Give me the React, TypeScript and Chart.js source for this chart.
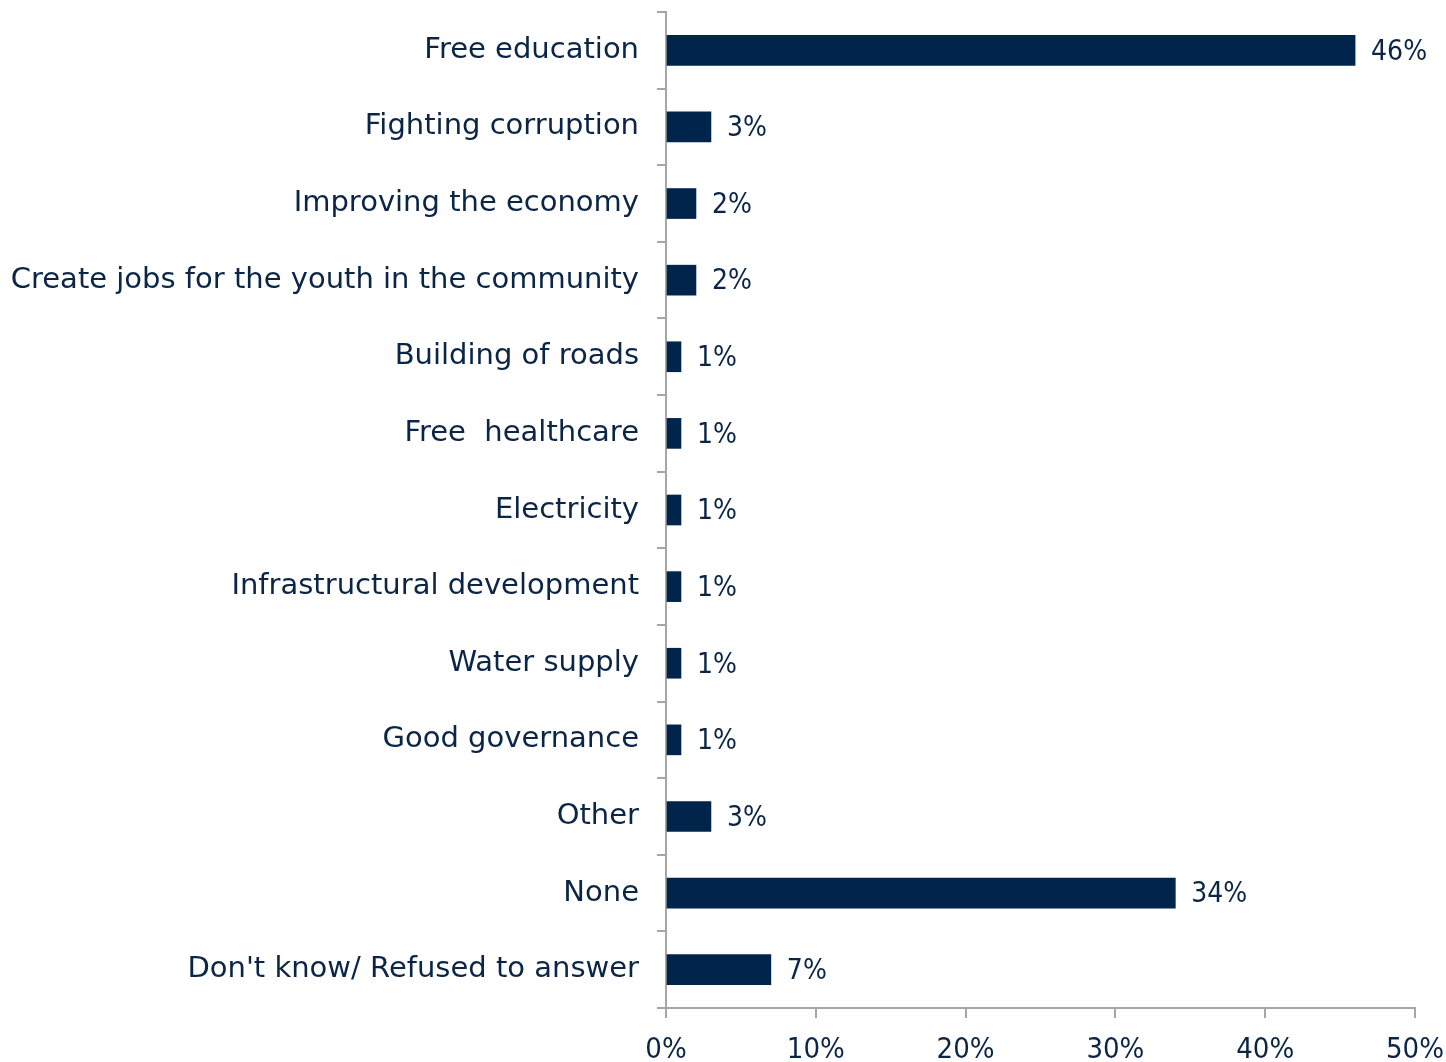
import React, { useEffect, useRef } from "react";
import { Chart, registerables } from "chart.js";

Chart.register(...registerables);

const categories = [
  "Free education",
  "Fighting corruption",
  "Improving the economy",
  "Create jobs for the youth in the community",
  "Building of roads",
  "Free  healthcare",
  "Electricity",
  "Infrastructural development",
  "Water supply",
  "Good governance",
  "Other",
  "None",
  "Don't know/ Refused to answer",
];
const values = [46, 3, 2, 2, 1, 1, 1, 1, 1, 1, 3, 34, 7];
const xTickValues = [0, 10, 20, 30, 40, 50];

const TEXT = "#0b2546";
const BAR = "#00244a";
const AXIS = "#a6a6a6";
const FONT = "'DejaVu Sans', sans-serif";
const NUM_FONT = "'Liberation Sans Narrow', 'DejaVu Sans Condensed', 'DejaVu Sans', sans-serif";

const valueLabels = {
  id: "valueLabels",
  afterDatasetsDraw(chart: any) {
    const ctx = chart.ctx;
    const meta = chart.getDatasetMeta(0);
    ctx.save();
    ctx.fillStyle = TEXT;
    ctx.font = `28px ${NUM_FONT}`;
    ctx.textAlign = "left";
    ctx.textBaseline = "middle";
    meta.data.forEach((bar: any, i: number) => {
      ctx.fillText(values[i] + "%", bar.x + 16, bar.y + 2);
    });
    ctx.restore();
  },
};

export default function App() {
  const ref = useRef<HTMLCanvasElement | null>(null);
  useEffect(() => {
    document.body.style.margin = "0";
    const chart = new Chart(ref.current!, {
      type: "bar",
      data: {
        labels: categories,
        datasets: [
          {
            data: values,
            backgroundColor: BAR,
            barThickness: 30,
          },
        ],
      },
      options: {
        indexAxis: "y",
        animation: false,
        responsive: false,
        maintainAspectRatio: false,
        layout: { padding: { top: 12, right: 31, left: 0, bottom: 0 } },
        plugins: { legend: { display: false }, tooltip: { enabled: false } },
        scales: {
          x: {
            min: 0,
            max: 50,
            afterBuildTicks(scale: any) {
              scale.ticks = xTickValues.map((v) => ({ value: v }));
            },
            afterFit(scale: any) {
              scale.height = 54;
              scale.paddingLeft = 0;
              scale.paddingRight = 0;
            },
            grid: {
              drawOnChartArea: false,
              drawTicks: true,
              tickLength: 10,
              color: AXIS,
              lineWidth: 2,
            },
            border: { color: AXIS, width: 2 },
            ticks: {
              color: TEXT,
              font: { family: NUM_FONT, size: 29 },
              padding: 15,
              callback: (v: any) => v + "%",
              maxRotation: 0,
            },
          },
          y: {
            afterFit(scale: any) {
              scale.width = 666;
              scale.paddingTop = 0;
              scale.paddingBottom = 0;
            },
            grid: {
              offset: true,
              drawOnChartArea: false,
              drawTicks: true,
              tickLength: 9,
              color: AXIS,
              lineWidth: 2,
            },
            border: { color: AXIS, width: 2 },
            ticks: {
              color: TEXT,
              font: { family: FONT, size: 29 },
              padding: 18,
              autoSkip: false,
            },
          },
        },
      },
      plugins: [valueLabels],
    });
    return () => chart.destroy();
  }, []);
  return (
    <div style={{ width: 1446, height: 1062 }}>
      <canvas ref={ref} width={1446} height={1062} style={{ display: "block" }} />
    </div>
  );
}
